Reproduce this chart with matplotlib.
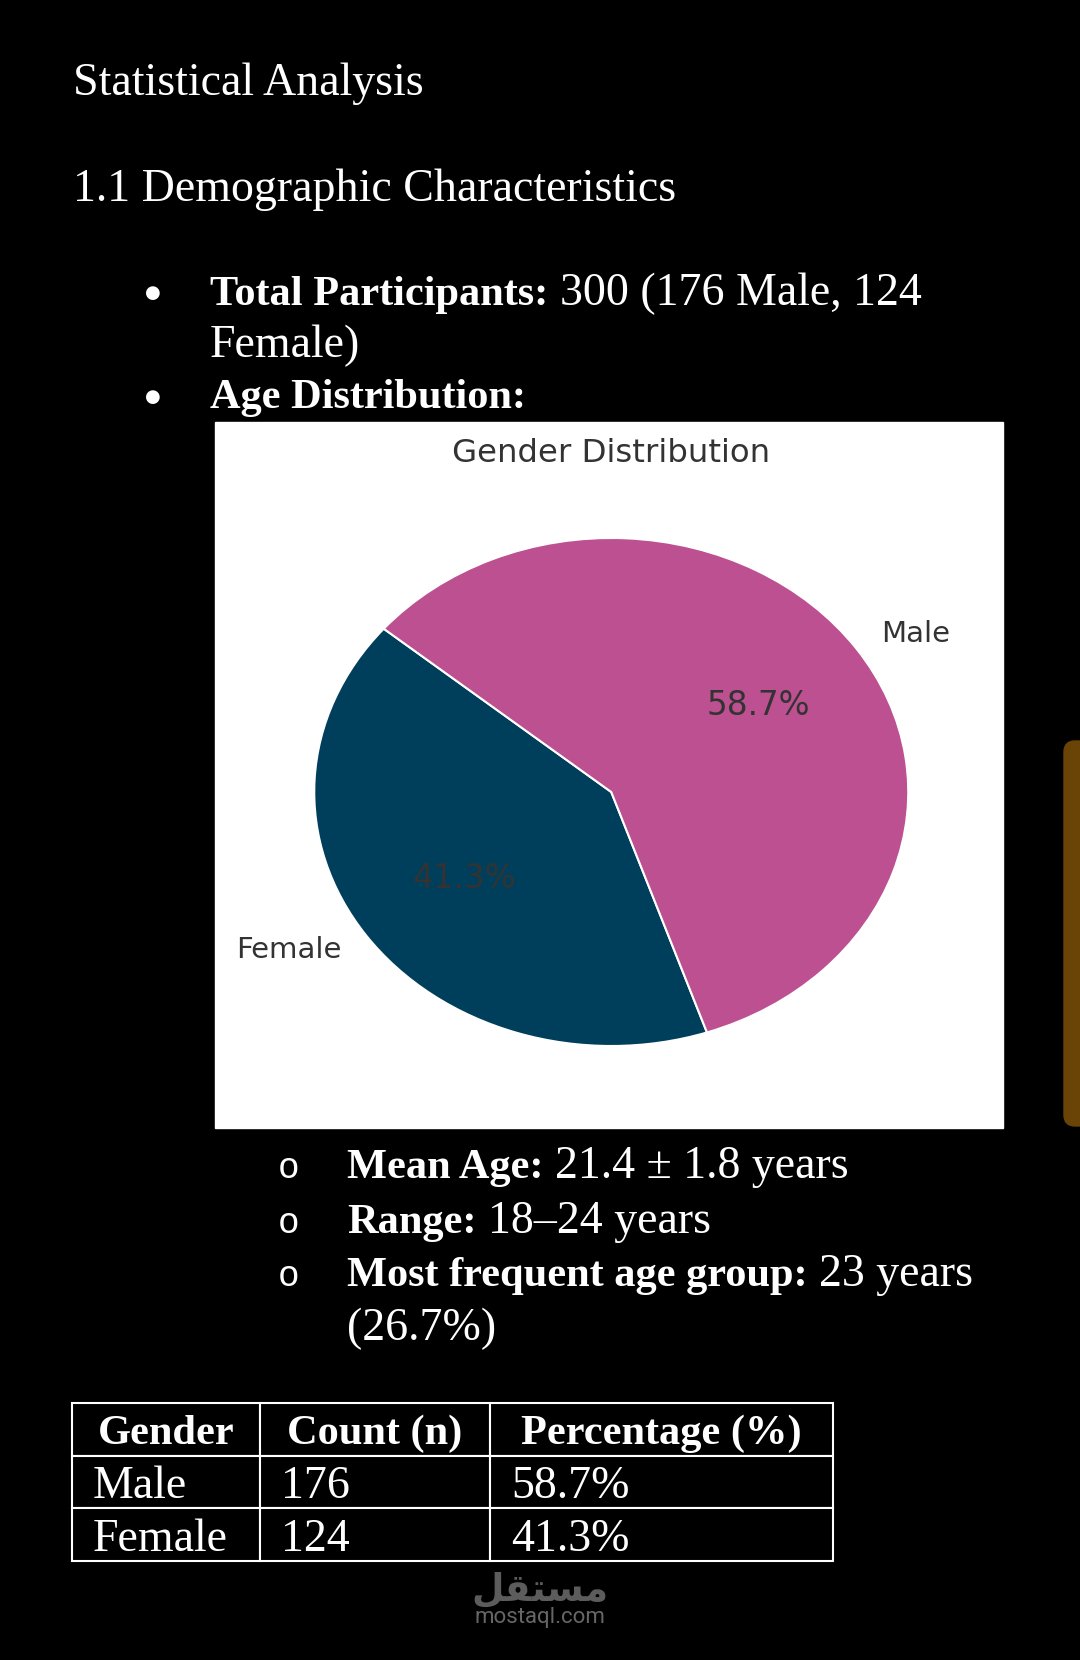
import matplotlib
matplotlib.use("Agg")
import matplotlib.pyplot as plt
from matplotlib.patches import Rectangle, FancyBboxPatch

W, H, DPI = 1080, 1660, 100

# data
genders = ["Male", "Female"]
counts = [176, 124]
percents = ["58.7%", "41.3%"]
pie_labels = ["Female", "Male"]
pie_values = [124, 176]
pie_colors = ["#003f5c", "#bc5090"]
table_header = ["Gender", "Count (n)", "Percentage (%)"]

SERIF = "Liberation Serif"
FS = {"normal": 33, "bold": 30.5}

fig = plt.figure(figsize=(W / DPI, H / DPI), dpi=DPI, facecolor="black")
r = fig.canvas.get_renderer()

# page overlay in pixel coords (y down)
page = fig.add_axes([0, 0, 1, 1])
page.set_xlim(0, W)
page.set_ylim(H, 0)
page.axis("off")


def line(x, y, parts):
    for text, weight in parts:
        size = FS[weight]
        t = page.text(x, y, text, fontsize=size, family=SERIF, weight=weight,
                      color="white", va="baseline")
        x += t.get_window_extent(r).width + 0.25 * FS["normal"] * DPI / 72


def bullet(x, y, sym="●", size=13, family="DejaVu Sans"):
    page.text(x, y, sym, fontsize=size, family=family, color="white",
              ha="center", va="center")


line(73, 95, [("Statistical Analysis", "normal")])
line(73, 201, [("1.1 Demographic Characteristics", "normal")])

bullet(153, 293)
line(210, 305, [("Total Participants:", "bold"), ("300 (176 Male, 124", "normal")])
line(210, 357, [("Female)", "normal")])
bullet(153, 397)
line(210, 408, [("Age Distribution:", "bold")])

sub = [
    (1178, [("Mean Age:", "bold"), ("21.4 ± 1.8 years", "normal")]),
    (1233, [("Range:", "bold"), ("18–24 years", "normal")]),
    (1286, [("Most frequent age group:", "bold"), ("23 years", "normal")]),
]
for y, parts in sub:
    page.text(289, y, "o", fontsize=26, family="Liberation Mono", color="white",
              ha="center", va="baseline")
    line(347, y, parts)
line(347, 1340, [("(26.7%)", "normal")])

# white chart box and scrollbar
page.add_patch(Rectangle((215, 422), 788, 706, color="white", zorder=0))
page.add_patch(FancyBboxPatch((1064, 741), 30, 385,
                              boxstyle="round,pad=0,rounding_size=11",
                              color="#6a4306", zorder=0))

# watermark
page.text(540, 1600, "ﻞﻘﺘﺴﻣ", fontsize=27, family="DejaVu Sans", weight="bold",
          color="#5c5c5c", ha="center", va="baseline")
page.text(540, 1617, "mostaql.com", fontsize=16, family="Roboto",
          color="#666666", ha="center", va="center")

# pie chart
ax = fig.add_axes([240 / W, 1 - 1109.5 / H, 742.5 / W, 635 / H])
wedges, texts, autotexts = ax.pie(
    pie_values, labels=pie_labels, colors=pie_colors, startangle=140,
    autopct="%1.1f%%", wedgeprops=dict(edgecolor="white", linewidth=1.5),
    textprops=dict(color="#333333", fontsize=21))
for t in autotexts:
    t.set_fontsize(23.5)
ax.set_aspect("auto")
ax.set_xlim(-1.25, 1.25)
ax.set_ylim(-1.25, 1.25)
ax.set_title("Gender Distribution", fontsize=23.3, color="#333333", pad=9)

# table
tax = fig.add_axes([72 / W, 1 - 1561 / H, 761 / W, 158 / H])
tax.axis("off")
col_px = [188, 230, 343]
rows = [[g, str(c), p] for g, c, p in zip(genders, counts, percents)]
tbl = tax.table(cellText=rows, colLabels=table_header,
                colWidths=[c / sum(col_px) for c in col_px],
                cellLoc="left", bbox=[0, 0, 1, 1])
tbl.auto_set_font_size(False)
for (i, j), cell in tbl.get_celld().items():
    cell.set_facecolor("black")
    cell.set_edgecolor("white")
    cell.set_linewidth(1.5)
    txt = cell.get_text()
    txt.set_color("white")
    txt.set_fontfamily(SERIF)
    txt.set_va("center_baseline")
    if i == 0:
        txt.set_fontsize(FS["bold"])
        txt.set_fontweight("bold")
        txt.set_ha("center")
    else:
        txt.set_fontsize(FS["normal"])
        cell.PAD = 21 / col_px[j]

fig.savefig("out.png", dpi=DPI, facecolor="black")
